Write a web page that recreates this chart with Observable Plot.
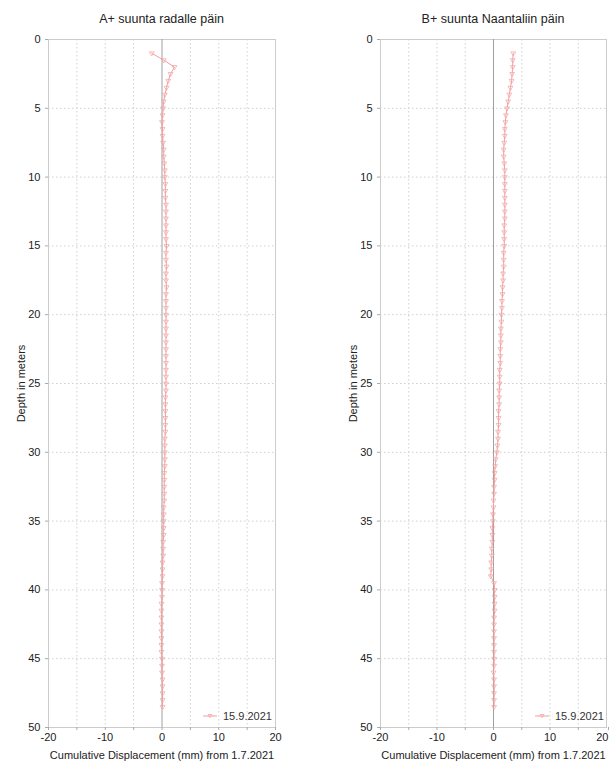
<!DOCTYPE html>
<html>
<head>
<meta charset="utf-8">
<script src="https://cdn.jsdelivr.net/npm/d3@7"></script>
<script src="https://cdn.jsdelivr.net/npm/@observablehq/plot@0.6"></script>
<style>
  body { margin: 0; background: #fff; font-family: "Liberation Sans", Arial, sans-serif; }
  #row { display: flex; width: 611px; }
  .panel { position: relative; }
  .title { box-sizing: border-box; height: 30px; padding-top: 12px; line-height: 14px; font-size: 12.5px; color: #222; text-align: center; white-space: nowrap; }
  .legend { position: absolute; display: flex; align-items: center; font-size: 11px; color: #333; }
  .legend span { margin-left: 6px; }
</style>
</head>
<body>
<div id="row"></div>
<script>
// Inclinometer readings, 15.9.2021, cumulative from 1.7.2021
const depths = [
  1, 1.5, 2, 2.5, 3, 3.5, 4, 4.5, 5, 5.5,
  6, 6.5, 7, 7.5, 8, 8.5, 9, 9.5, 10, 10.5,
  11, 11.5, 12, 12.5, 13, 13.5, 14, 14.5, 15, 15.5,
  16, 16.5, 17, 17.5, 18, 18.5, 19, 19.5, 20, 20.5,
  21, 21.5, 22, 22.5, 23, 23.5, 24, 24.5, 25, 25.5,
  26, 26.5, 27, 27.5, 28, 28.5, 29, 29.5, 30, 30.5,
  31, 31.5, 32, 32.5, 33, 33.5, 34, 34.5, 35, 35.5,
  36, 36.5, 37, 37.5, 38, 38.5, 39, 39.5, 40, 40.5,
  41, 41.5, 42, 42.5, 43, 43.5, 44, 44.5, 45, 45.5,
  46, 46.5, 47, 47.5, 48, 48.5
];

// A+ direction (towards the railway), mm
const dispA = [
  -1.8, 0.3, 2.2, 1.5, 1.1, 0.8, 0.5, 0.3, 0.2, 0.1,
  0.0, 0.1, 0.1, 0.2, 0.3, 0.3, 0.4, 0.5, 0.5, 0.6,
  0.6, 0.6, 0.7, 0.7, 0.7, 0.7, 0.7, 0.7, 0.8, 0.7,
  0.7, 0.8, 0.7, 0.7, 0.8, 0.7, 0.7, 0.7, 0.7, 0.7,
  0.7, 0.7, 0.7, 0.7, 0.7, 0.7, 0.7, 0.7, 0.7, 0.7,
  0.6, 0.6, 0.6, 0.6, 0.6, 0.6, 0.5, 0.5, 0.5, 0.5,
  0.5, 0.4, 0.4, 0.4, 0.4, 0.4, 0.3, 0.3, 0.3, 0.3,
  0.3, 0.2, 0.2, 0.2, 0.1, 0.1, 0.1, 0.0, 0.0, 0.0,
  -0.1, -0.1, -0.1, -0.1, -0.1, -0.1, -0.1, -0.1, 0.0, 0.0,
  0.0, 0.1, 0.1, 0.1, 0.1, 0.1
];

// B+ direction (towards Naantali), mm
const dispB = [
  3.5, 3.4, 3.4, 3.3, 3.2, 3.0, 2.8, 2.6, 2.4, 2.2,
  2.1, 2.0, 2.0, 1.9, 1.8, 1.8, 1.9, 2.0, 2.0, 2.0,
  2.0, 2.0, 2.0, 2.0, 2.0, 1.9, 1.9, 1.9, 1.9, 1.8,
  1.8, 1.8, 1.7, 1.7, 1.6, 1.6, 1.5, 1.5, 1.4, 1.4,
  1.3, 1.3, 1.3, 1.2, 1.2, 1.2, 1.1, 1.1, 1.1, 1.0,
  1.0, 1.0, 0.9, 0.9, 0.9, 0.8, 0.8, 0.7, 0.6, 0.4,
  0.3, 0.2, 0.2, 0.1, 0.1, 0.0, 0.0, -0.1, -0.1, -0.2,
  -0.2, -0.2, -0.3, -0.3, -0.4, -0.4, -0.5, 0.1, 0.2, 0.2,
  0.2, 0.2, 0.1, 0.1, 0.1, 0.1, 0.1, 0.1, 0.1, 0.1,
  0.0, 0.1, 0.1, 0.1, 0.1, 0.1
];

const xLabelTicks = [-20, -10, 0, 10, 20];
const xMinorTicks = [-15, -5, 5, 15];
const xGridTicks = [-15, -10, -5, 5, 10, 15];
const yTicks = [0, 5, 10, 15, 20, 25, 30, 35, 40, 45, 50];
const yGridTicks = [5, 10, 15, 20, 25, 30, 35, 40, 45];

const seriesLabel = "15.9.2021";
const xLabel = "Cumulative Displacement (mm) from 1.7.2021";
const yLabel = "Depth in meters";

const panels = [
  { title: "A+ suunta radalle päin", values: dispA, width: 305, marginLeft: 48, marginRight: 30, legendLeft: 203, edgeShift: 0 },
  { title: "B+ suunta Naantaliin päin", values: dispB, width: 306, marginLeft: 75, marginRight: 5, legendLeft: 230, edgeShift: -2 }
];

const lineColor = "#f2a0a0";
const row = document.getElementById("row");
const fmt = (d) => String(d);

for (const p of panels) {
  const data = depths.map((d, i) => ({ depth: d, disp: p.values[i] }));
  const panel = document.createElement("div");
  panel.className = "panel";
  panel.style.width = p.width + "px";

  const title = document.createElement("div");
  title.className = "title";
  title.style.marginLeft = p.marginLeft + "px";
  title.style.width = (p.width - p.marginLeft - p.marginRight) + "px";
  title.textContent = p.title;
  panel.appendChild(title);

  const lastTick = xLabelTicks[xLabelTicks.length - 1];
  const chart = Plot.plot({
    width: p.width,
    height: 737,
    marginTop: 9,
    marginBottom: 40,
    marginLeft: p.marginLeft,
    marginRight: p.marginRight,
    style: { fontFamily: "'Liberation Sans', Arial, sans-serif", fontSize: "11px", color: "#222", background: "#fff", overflow: "visible" },
    x: { domain: [-20, 20] },
    y: { domain: [0, 50], reverse: true },
    marks: [
      Plot.gridX(xGridTicks, { stroke: "#cfcfcf", strokeOpacity: 1, strokeDasharray: "1.5,2.5" }),
      Plot.gridY(yGridTicks, { stroke: "#cfcfcf", strokeOpacity: 1, strokeDasharray: "1.5,2.5" }),
      Plot.frame({ stroke: "#cccccc" }),
      Plot.ruleX([0], { stroke: "#a0a0a0" }),
      Plot.axisX(xMinorTicks, { tickSize: 3, text: null, label: null, stroke: "#aaa" }),
      Plot.axisX(xLabelTicks.slice(0, -1), {
        tickSize: 3, tickPadding: 3, stroke: "#aaa", tickFormat: fmt,
        label: xLabel, labelAnchor: "center", labelArrow: "none", labelOffset: 31
      }),
      // last label nudged inward where the panel meets the page edge
      Plot.axisX([lastTick], {
        tickSize: 3, tickPadding: 3, stroke: "#aaa", tickFormat: fmt, label: null,
        textAnchor: p.edgeShift ? "end" : "middle", dx: p.edgeShift ? 4 + p.edgeShift : 0
      }),
      Plot.axisY(yTicks, {
        tickSize: 3, tickPadding: 5, stroke: "#aaa", tickFormat: fmt,
        label: yLabel, labelAnchor: "center", labelArrow: "none", labelOffset: 31
      }),
      Plot.line(data, { x: "disp", y: "depth", stroke: lineColor, strokeWidth: 1 }),
      Plot.dot(data, { x: "disp", y: "depth", symbol: "triangle", rotate: 180, r: 1.8, stroke: lineColor, strokeWidth: 0.7, fill: "none" })
    ]
  });
  panel.appendChild(chart);

  // series legend, bottom right of the plot area
  const legend = document.createElement("div");
  legend.className = "legend";
  legend.style.left = p.legendLeft + "px";
  legend.style.top = "710px";
  legend.innerHTML =
    `<svg width="14" height="12"><line x1="0" y1="6" x2="14" y2="6" stroke="${lineColor}"/>` +
    `<path d="M5,4.5 L9,4.5 L7,7.8 Z" fill="none" stroke="${lineColor}" stroke-width="0.7"/></svg>` +
    `<span>${seriesLabel}</span>`;
  panel.appendChild(legend);

  row.appendChild(panel);
}
</script>
</body>
</html>
